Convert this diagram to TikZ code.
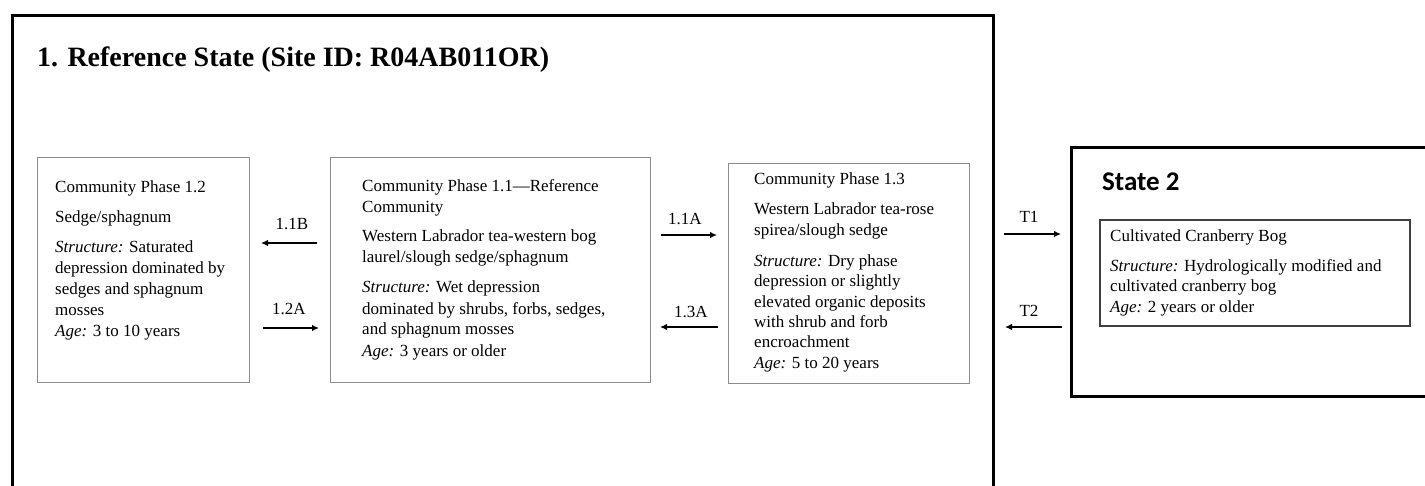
\documentclass[tikz,border=0pt]{standalone}
\usepackage{fontspec}
\setmainfont{Liberation Serif}
\newfontfamily\statefont{Carlito}
\usetikzlibrary{arrows.meta}
\begin{document}
\begin{tikzpicture}[x=1pt,y=-1pt,
  statebox/.style={draw=black,line width=3pt},
  phasebox/.style={draw=black!45,line width=1pt},
  innerbox/.style={draw=black!75,line width=2pt},
  txt/.style={anchor=base west,inner sep=0pt,font=\fontsize{17}{21}\selectfont},
  lbl/.style={anchor=base,inner sep=0pt,font=\fontsize{17}{21}\selectfont},
  arr/.style={line width=1.6pt,-{Latex[length=7pt,width=6.5pt]}}]
\clip (0,0) rectangle (1425,486);
\fill[white] (0,0) rectangle (1425,486);
% State 1 outer frame
\draw[statebox] (12,520) -- (12,16) -- (993,16) -- (993,520);
\node[anchor=base west,inner sep=0pt,font=\fontsize{28}{32}\selectfont\bfseries] (title1) at (37,67) {1. Reference State (Site ID: R04AB011OR)};
% Phase boxes
\node[phasebox,minimum width=212pt,minimum height=225pt,anchor=north west,inner sep=0pt] (b12) at (37,157) {};
\node[phasebox,minimum width=320pt,minimum height=225pt,anchor=north west,inner sep=0pt] (b11) at (330,157) {};
\node[phasebox,minimum width=241pt,minimum height=220pt,anchor=north west,inner sep=0pt] (b13) at (728,163) {};
% Box 1.2 text
\node[txt] (t12a) at (55,193) {Community Phase 1.2};
\node[txt] (t12b) at (55,223) {Sedge/sphagnum};
\node[txt] (t12c) at (55,253) {\textit{Structure:} Saturated};
\node[txt] (t12d) at (55,274) {depression dominated by};
\node[txt] (t12e) at (55,295) {sedges and sphagnum};
\node[txt] (t12f) at (55,316) {mosses};
\node[txt] (t12g) at (55,337) {\textit{Age:} 3 to 10 years};
% Box 1.1 text
\node[txt] (t11a) at (362,192) {Community Phase 1.1—Reference};
\node[txt] (t11b) at (362,213) {Community};
\node[txt] (t11c) at (362,242) {Western Labrador tea-western bog};
\node[txt] (t11d) at (362,263) {laurel/slough sedge/sphagnum};
\node[txt] (t11e) at (362,293) {\textit{Structure:} Wet depression};
\node[txt] (t11f) at (362,315) {dominated by shrubs, forbs, sedges,};
\node[txt] (t11g) at (362,335) {and sphagnum mosses};
\node[txt] (t11h) at (362,356) {\textit{Age:} 3 years or older};
% Box 1.3 text
\node[txt] (t13a) at (754,185) {Community Phase 1.3};
\node[txt] (t13b) at (754,215) {Western Labrador tea-rose};
\node[txt] (t13c) at (754,236) {spirea/slough sedge};
\node[txt] (t13d) at (754,267) {\textit{Structure:} Dry phase};
\node[txt] (t13e) at (754,287) {depression or slightly};
\node[txt] (t13f) at (754,308) {elevated organic deposits};
\node[txt] (t13g) at (754,328) {with shrub and forb};
\node[txt] (t13h) at (754,348) {encroachment};
\node[txt] (t13i) at (754,369) {\textit{Age:} 5 to 20 years};
% State 2
\draw[statebox] (1440,148) -- (1071,148) -- (1071,396) -- (1440,396);
\node[anchor=base west,inner sep=0pt,font=\statefont\fontsize{27}{30}\selectfont\bfseries] (title2) at (1102,191) {State 2};
\node[innerbox,minimum width=310pt,minimum height=106pt,anchor=north west,inner sep=0pt] (b21) at (1099,219) {};
\node[txt] (t21a) at (1110,242) {Cultivated Cranberry Bog};
\node[txt] (t21b) at (1110,272) {\textit{Structure:} Hydrologically modified and};
\node[txt] (t21c) at (1110,292) {cultivated cranberry bog};
\node[txt] (t21d) at (1110,313) {\textit{Age:} 2 years or older};
% arrow end points
\coordinate (p11Bs) at (317,243);
\coordinate (p11Be) at (261,243);
\coordinate (p12As) at (263,328);
\coordinate (p12Ae) at (319,328);
\coordinate (p11As) at (661,235);
\coordinate (p11Ae) at (717,235);
\coordinate (p13As) at (718,327);
\coordinate (p13Ae) at (660,327);
\coordinate (pT1s) at (1004,234);
\coordinate (pT1e) at (1061,234);
\coordinate (pT2s) at (1062,327);
\coordinate (pT2e) at (1005,327);
\draw[arr] (p11Bs) -- (p11Be);
\draw[arr] (p12As) -- (p12Ae);
\draw[arr] (p11As) -- (p11Ae);
\draw[arr] (p13As) -- (p13Ae);
\draw[arr] (pT1s) -- (pT1e);
\draw[arr] (pT2s) -- (pT2e);
\node[lbl] (l11B) at (292,230) {1.1B};
\node[lbl] (l12A) at (289,315) {1.2A};
\node[lbl] (l11A) at (685,225) {1.1A};
\node[lbl] (l13A) at (691,318) {1.3A};
\node[lbl] (lT1) at (1029,223) {T1};
\node[lbl] (lT2) at (1029,317) {T2};
\end{tikzpicture}
\end{document}
